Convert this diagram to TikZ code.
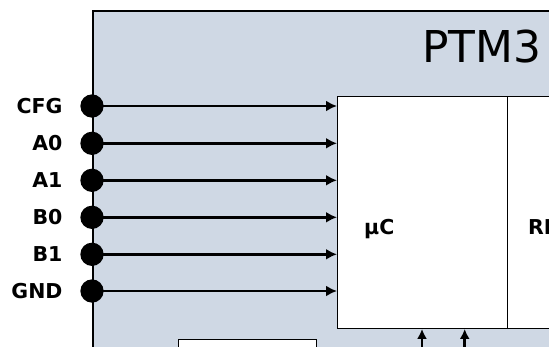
\documentclass[tikz,border=0pt]{standalone}
\usepackage{fontspec}
\setsansfont{DejaVu Sans}
\usepackage{tikz}
\usetikzlibrary{arrows.meta,positioning}
\definecolor{ptmbg}{RGB}{207,216,228}
\tikzset{
	pin/.style={circle, fill=black, minimum size=23.3pt, inner sep=0pt},
	pinlabel/.style={inner sep=0pt, font=\sffamily\bfseries\fontsize{20.5}{24}\selectfont},
	sig/.style={line width=2.8pt, -{Latex[length=11pt,width=11pt]}},
	blk/.style={draw, line width=0.9pt, fill=white}
}

\begin{document}
\begin{tikzpicture}[x=1pt,y=-1pt]
			\useasboundingbox (0,0) rectangle (549,346);
			\clip (0,0) rectangle (549,346);
			\draw[line width=2.5pt, fill=ptmbg] (93,11) rectangle (620,400);
			\node (title) at (422,62) [anchor=base west, inner sep=0pt] {\sffamily\fontsize{43.9}{50}\selectfont PTM3};
			\node (uc) at (337,95.7) [blk, anchor=north west, minimum width=169.7pt, minimum height=232.3pt] {};
			\node (rf) at (506.7,95.7) [blk, anchor=north west, minimum width=120pt, minimum height=232.3pt] {};
			\node (uclbl) at (364,234) [pinlabel, anchor=base west] {μC};
			\node (rflbl) at (528,234) [pinlabel, anchor=base west] {RF};
			\draw[blk] (178.5,339) rectangle (316,400);
			\node (cfg) at (92,106) [pin] {};
			\node (a0) at (92,143.3) [pin] {};
			\node (a1) at (92,180.3) [pin] {};
			\node (b0) at (92,217.3) [pin] {};
			\node (b1) at (92,254.3) [pin] {};
			\node (gnd) at (92,291) [pin] {};
			\node (cfgl) [pinlabel, left=17.5pt of cfg] {CFG};
			\node (a0l) [pinlabel, left=17.5pt of a0] {A0};
			\node (a1l) [pinlabel, left=17.5pt of a1] {A1};
			\node (b0l) [pinlabel, left=17.5pt of b0] {B0};
			\node (b1l) [pinlabel, left=17.5pt of b1] {B1};
			\node (gndl) [pinlabel, left=17.5pt of gnd] {GND};
			\draw[sig] (cfg.center) -- (cfg -| uc.west);
			\draw[sig] (a0.center) -- (a0 -| uc.west);
			\draw[sig] (a1.center) -- (a1 -| uc.west);
			\draw[sig] (b0.center) -- (b0 -| uc.west);
			\draw[sig] (b1.center) -- (b1 -| uc.west);
			\draw[sig] (gnd.center) -- (gnd -| uc.west);
			\coordinate (p1) at (422,360);
			\coordinate (p2) at (464.7,360);
			\draw[line width=2.8pt, -{Latex[length=10pt,width=10pt]}] (p1) -- (p1 |- uc.south);
			\draw[line width=2.8pt, -{Latex[length=10pt,width=10pt]}] (p2) -- (p2 |- uc.south);
		\end{tikzpicture}
\end{document}
